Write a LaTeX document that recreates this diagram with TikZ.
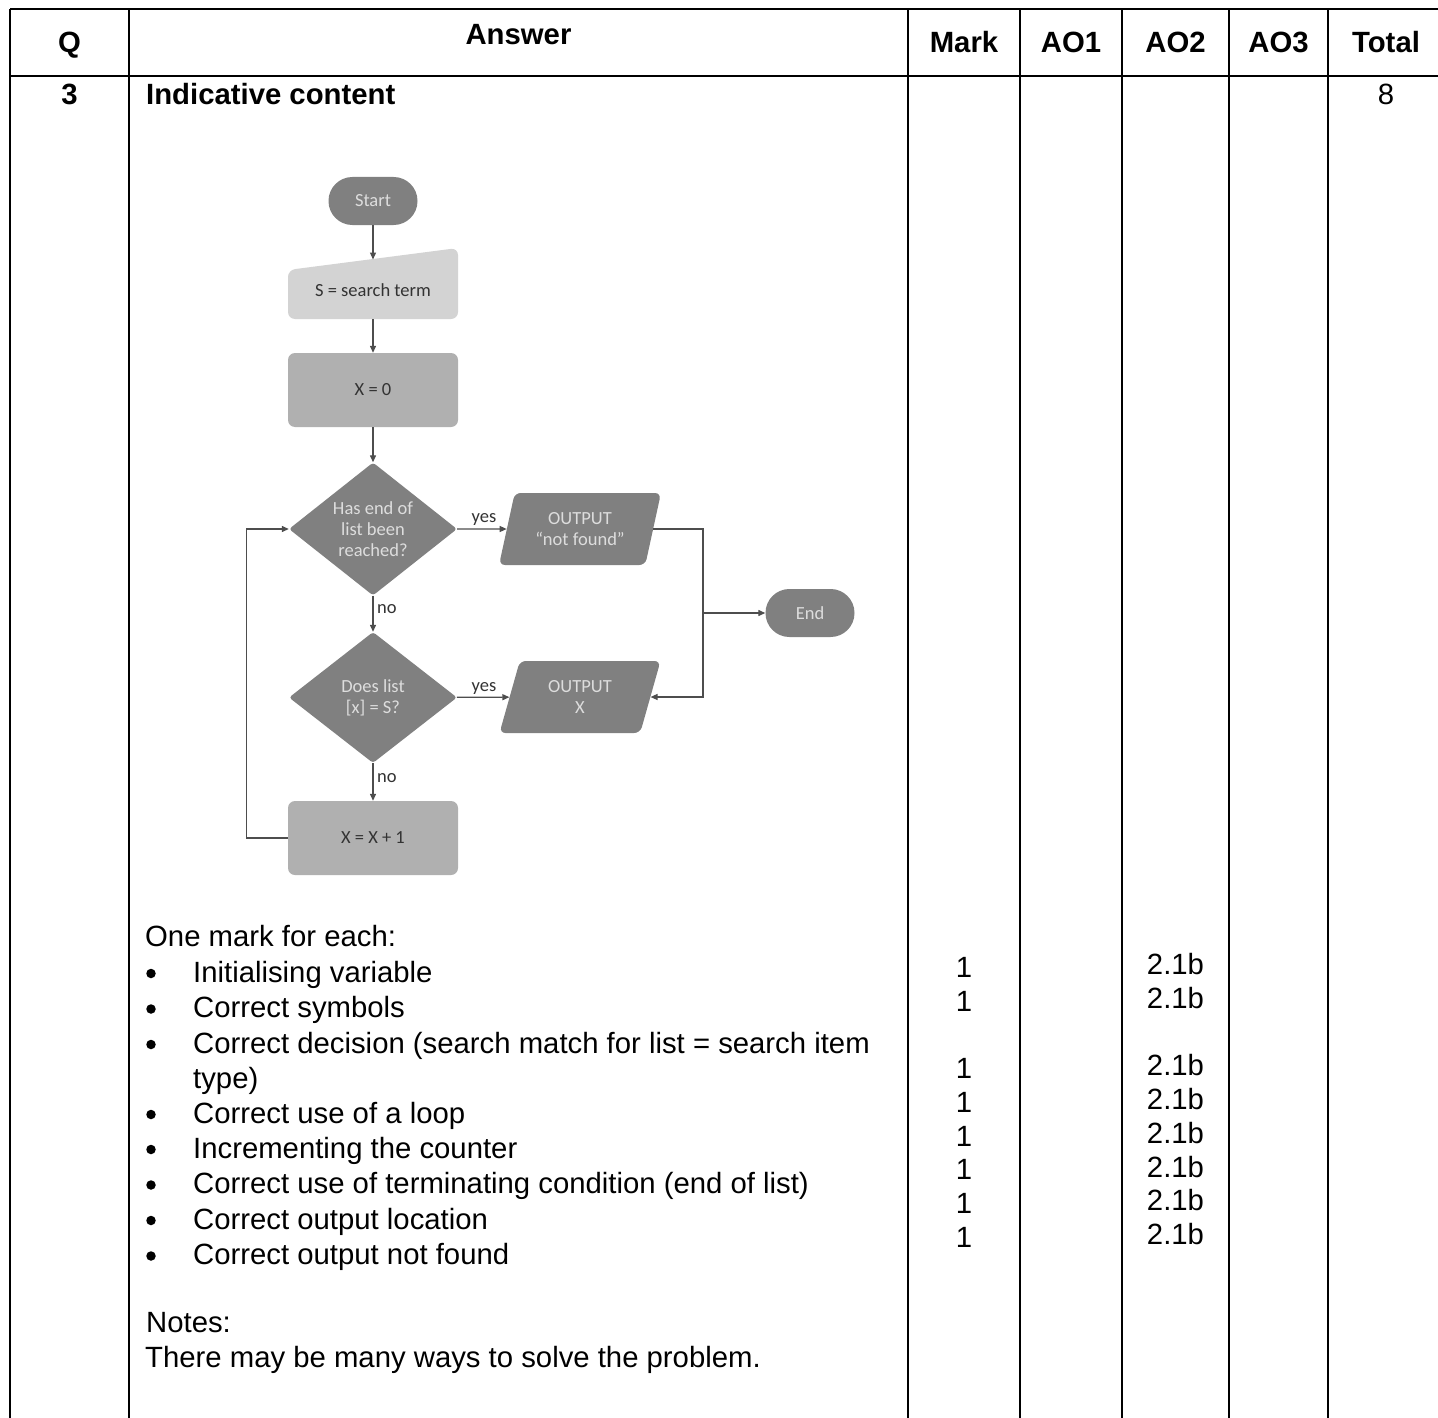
\documentclass[tikz,border=0pt]{standalone}
\usepackage{fontspec}
\setmainfont{Liberation Sans}
\newfontfamily\fcfont{Carlito}
\usetikzlibrary{shapes.geometric,arrows.meta,calc}
\definecolor{lineg}{HTML}{4D4D4D}
\definecolor{darkf}{HTML}{808080}
\definecolor{midf}{HTML}{B0B0B0}
\definecolor{lightf}{HTML}{D3D3D3}
\definecolor{txtl}{HTML}{DDDDDD}
\definecolor{txtd}{HTML}{333333}
\begin{document}
\begin{tikzpicture}[x=1pt,y=-1pt,
  tline/.style={line width=2.2pt, black},
  hd/.style={font=\bfseries\fontsize{29.3pt}{35.3pt}\selectfont, anchor=base, inner sep=0},
  tx/.style={font=\fontsize{29.3pt}{35.3pt}\selectfont, anchor=base west, inner sep=0},
  num/.style={font=\fontsize{29.3pt}{35.3pt}\selectfont, anchor=base, inner sep=0},
  bul/.style={circle, fill=black, minimum size=9.5pt, inner sep=0},
  fc/.style={font=\fcfont\fontsize{18.5pt}{21pt}\selectfont, align=center, inner sep=0},
  term/.style={fc, fill=darkf, text=txtl, minimum width=89pt, minimum height=48pt, rounded corners=23.9pt},
  proc/.style={fc, fill=midf, text=txtd, minimum width=170pt, minimum height=74pt, rounded corners=7pt},
  dec/.style={fc, diamond, aspect=1.26, fill=darkf, text=txtl, minimum width=168pt, minimum height=133pt, rounded corners=3pt},
  io/.style={fc, trapezium, trapezium left angle=72, trapezium right angle=108, trapezium stretches=true, minimum width=162pt, minimum height=72pt, fill=darkf, text=txtl, rounded corners=6pt},
  arr/.style={line width=1.3pt, draw=lineg, -{Triangle[length=7pt,width=6pt]}},
  lbl/.style={font=\fcfont\fontsize{18.5pt}{21pt}\selectfont, text=txtd, inner sep=0}
]
\useasboundingbox (0,0) rectangle (1438,1418);
\fill[white] (0,0) rectangle (1438,1418);

% table lines
\draw[tline] (10,9) -- (1438,9);
\draw[tline] (10,76) -- (1438,76);
\foreach \cx in {10,129,908,1020,1122,1229,1328} {
  \draw[tline] (\cx,9) -- (\cx,1418);
}

% header
\node[hd] (hq) at (69.5,53) {Q};
\node[hd] (hans) at (518.5,45) {Answer};
\node[hd] (hmark) at (964,53) {Mark};
\node[hd] (hao1) at (1071,53) {AO1};
\node[hd] (hao2) at (1175.5,53) {AO2};
\node[hd] (hao3) at (1278.5,53) {AO3};
\node[hd] (htot) at (1386,53) {Total};

% row
\node[hd] (rq) at (69.5,104.5) {3};
\node[tx, font=\bfseries\fontsize{29.3pt}{35.3pt}\selectfont] (rind) at (146,104.5) {Indicative content};
\node[num] (rtot) at (1386,104.5) {8};

% body text
\node[tx] (one) at (145,946) {One mark for each:};
\foreach \by/\btxt [count=\i] in {982/Initialising variable, 1017.5/Correct symbols, 1053/Correct decision (search match for list = search item, 1123/Correct use of a loop, 1158/Incrementing the counter, 1193.5/Correct use of terminating condition (end of list), 1229/Correct output location, 1264.5/Correct output not found} {
  \node[bul] (bul\i) at (151,\by-8.5) {};
  \node[tx] (bt\i) at (193,\by) {\btxt};
}
\node[tx] (btype) at (193,1088) {type)};
\node[tx] (notes) at (146,1332) {Notes:};
\node[tx] (notes2) at (145,1367) {There may be many ways to solve the problem.};

% marks
\foreach \my [count=\i] in {977,1011,1078,1112,1146,1179,1213,1247} {
  \node[num] (mk\i) at (964,\my) {1};
}
\foreach \my [count=\i] in {974,1008,1075,1109,1143,1177,1210,1244} {
  \node[num] (ao\i) at (1175.5,\my) {2.1b};
}

% flowchart
\node[term] (start) at (373,201) {Start};
\path[fill=lightf, rounded corners=7pt] (288,319) -- (458,319) -- (458,248) -- (288,270) -- cycle;
\node[fc, text=txtd] (inp) at (373,290) {S = search term};
\coordinate (inptop) at (373,259.5);
\coordinate (inpbot) at (373,319);
\node[proc] (x0) at (373,390) {X = 0};
\node[dec] (d1) at (373,529) {Has end of\\list been\\reached?};
\node[dec, minimum height=131pt] (d2) at (373,697.5) {Does list\\{[x]} = S?};
\node[proc] (inc) at (373,838) {X = X + 1};
\node[io] (o1) at (580,529) {OUTPUT\\“not found”};
\node[io] (o2) at (580,697) {OUTPUT\\X};
\node[term] (endn) at (810,613) {End};
\coordinate (jx) at (703,613);

\draw[arr] (start) -- (inptop);
\draw[arr] (inpbot) -- (x0);
\draw[arr] (x0) -- (d1);
\draw[arr] (d1) -- (d2);
\draw[arr] (d2) -- (inc);
\draw[arr] (d1) -- (o1);
\draw[arr] (d2) -- (o2);
\draw[arr] (o1.east) -| (jx) |- (o2.east);
\draw[arr] (jx) -- (endn);
\draw[arr] (inc.west) -- ++(-41,0) |- (d1.west);

\node[lbl, anchor=base] (yes1) at (484,522) {yes};
\node[lbl, anchor=base] (yes2) at (484,691) {yes};
\node[lbl, anchor=base west] (no1) at (377,613) {no};
\node[lbl, anchor=base west] (no2) at (377,782) {no};
\end{tikzpicture}
\end{document}
